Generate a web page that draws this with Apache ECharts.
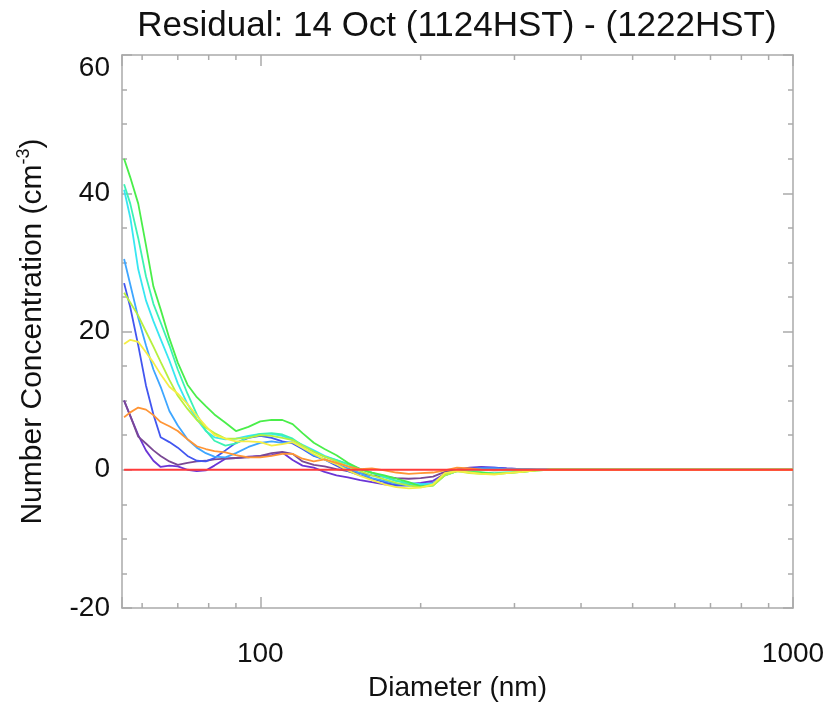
<!DOCTYPE html>
<html>
<head>
<meta charset="utf-8">
<script src="https://cdn.jsdelivr.net/npm/echarts@6/dist/echarts.min.js"></script>
<style>
html,body{margin:0;padding:0;background:#fff;}
#chart{width:830px;height:707px;}
</style>
</head>
<body>
<div id="chart"></div>
<script>
// Diameters (nm) shared by every scan
const diameters = [55.5, 57, 59, 61, 63, 65, 67.5, 70, 73, 76,
  79, 82, 86, 90, 95, 100, 105, 110, 115, 120,
  126, 132, 139, 146, 154, 162, 171, 180, 190, 200,
  211, 222, 234, 247, 260, 275, 290, 310, 330, 350,
  375, 400, 450, 500, 600, 1000];

const violet = [10.0, 7.8, 5.0, 2.8, 1.3, 0.4, 0.6, 0.5, 0.0, -0.2,
  -0.1, 0.6, 1.6, 1.7, 1.9, 2.0, 2.1, 2.5, 1.4, 0.6,
  0.3, -0.3, -0.8, -1.1, -1.5, -1.8, -2.1, -2.2, -2.1, -1.9,
  -1.6, -0.6, 0, 0.3, 0.4, 0.3, 0.2, 0.1, 0, 0,
  0, 0, 0, 0, 0, 0];
const mauve = [10.0, 7.8, 4.8, 3.8, 2.8, 2.0, 1.2, 0.7, 1.0, 1.2,
  1.3, 1.5, 1.6, 1.7, 1.8, 2.0, 2.4, 2.6, 2.3, 1.2,
  0.7, 0.5, 0.1, -0.2, -0.5, -0.8, -1.0, -1.2, -1.3, -1.2,
  -1.0, -0.3, 0, 0.2, 0.3, 0.2, 0.1, 0, 0, 0,
  0, 0, 0, 0, 0, 0];
const blue = [27.0, 23.5, 18.0, 12.2, 8.0, 4.7, 4.0, 3.2, 2.0, 1.3,
  1.2, 1.7, 2.8, 3.9, 4.6, 4.9, 4.6, 4.1, 3.8, 3.0,
  2.0, 1.5, 0.6, -0.2, -0.8, -1.3, -1.8, -2.3, -2.3, -2.1,
  -1.9, -0.7, 0, 0.2, 0.3, 0.3, 0.2, 0.1, 0, 0,
  0, 0, 0, 0, 0, 0];
const lightBlue = [30.5, 26.8, 22.0, 18.0, 14.5, 12.0, 8.5, 6.4, 4.4, 3.2,
  2.4, 1.9, 1.8, 2.4, 3.3, 3.9, 4.1, 3.9, 4.0, 3.2,
  2.1, 1.5, 0.8, 0.2, -0.5, -1.2, -1.6, -2.0, -2.2, -2.3,
  -2.1, -0.8, -0.2, 0.1, 0.2, 0.2, 0.1, 0.1, 0, 0,
  0, 0, 0, 0, 0, 0];
const cyan = [40.5, 36.5, 29.0, 24.5, 21.5, 18.9, 15.8, 12.5, 9.5, 7.3,
  5.6, 4.7, 4.4, 4.5, 4.9, 5.2, 5.2, 4.9, 4.3, 3.6,
  2.8, 2.0, 1.4, 0.8, 0.1, -0.4, -1.1, -1.6, -1.9, -2.1,
  -2.0, -0.7, -0.1, -0.1, 0, -0.1, -0.1, 0, 0, 0,
  0, 0, 0, 0, 0, 0];
const aqua = [41.3, 38.5, 33.5, 28.0, 24.0, 21.3, 18.0, 14.5, 11.0, 8.0,
  5.7, 4.2, 3.5, 3.8, 4.7, 5.2, 5.3, 5.1, 4.5, 3.5,
  2.6, 1.9, 1.4, 0.8, 0.1, -0.5, -1.0, -1.6, -2.0, -2.4,
  -2.3, -0.8, -0.2, -0.3, -0.4, -0.5, -0.4, -0.3, -0.1, 0,
  0, 0, 0, 0, 0, 0];
const green = [45.0, 42.3, 38.5, 32.5, 26.5, 23.2, 19.0, 15.5, 12.3, 10.5,
  9.2, 8.0, 6.8, 5.6, 6.2, 7.0, 7.2, 7.2, 6.6, 5.3,
  3.9, 3.0, 2.1, 1.0, 0.1, -0.4, -0.8, -1.3, -1.8, -2.4,
  -2.2, -0.6, -0.1, -0.3, -0.4, -0.6, -0.5, -0.3, -0.1, 0,
  0, 0, 0, 0, 0, 0];
const yellowGreen = [25.6, 24.2, 22.3, 20.0, 17.8, 15.6, 13.0, 10.7, 8.8, 7.2,
  6.1, 5.3, 4.5, 4.5, 4.6, 5.0, 4.9, 4.6, 4.3, 3.5,
  2.6, 1.9, 1.2, 0.5, -0.2, -0.8, -1.4, -1.9, -2.3, -2.5,
  -2.3, -0.8, -0.2, -0.5, -0.6, -0.6, -0.5, -0.3, -0.1, 0,
  0, 0, 0, 0, 0, 0];
const yellow = [18.2, 18.8, 18.5, 17.0, 15.5, 13.8, 12.0, 11.0, 9.5, 7.8,
  6.3, 5.0, 4.5, 4.1, 4.1, 4.0, 3.5, 3.7, 4.0, 3.2,
  2.3, 1.5, 0.8, -0.1, -0.9, -1.5, -2.1, -2.5, -2.7, -2.6,
  -2.1, -0.5, -0.2, -0.4, -0.6, -0.7, -0.5, -0.3, -0.1, 0,
  0, 0, 0, 0, 0, 0];
const orange = [7.6, 8.3, 9.0, 8.7, 7.9, 6.9, 6.3, 5.6, 4.4, 3.4,
  3.0, 2.7, 2.5, 2.1, 1.8, 1.8, 2.0, 2.3, 2.3, 1.6,
  1.2, 1.5, 1.0, 0.5, 0.1, 0.2, -0.1, -0.4, -0.6, -0.5,
  -0.4, -0.1, 0.3, 0.2, 0, -0.1, 0, 0, 0, 0,
  0, 0, 0, 0, 0, 0];
const red = [0, 0, 0, 0, 0, 0, 0, 0, 0, 0,
  0, 0, 0, 0, 0, 0, 0, 0, 0, 0,
  0, 0, 0, 0, 0, 0, 0, 0, 0, 0,
  0, 0, 0, 0, 0, 0, 0, 0, 0, 0,
  0, 0, 0, 0, 0, 0];

const seriesList = [
  {values: violet, color: '#6b35d6'},
  {values: mauve, color: '#7a4894'},
  {values: blue, color: '#4256f0'},
  {values: lightBlue, color: '#3ea6ff'},
  {values: cyan, color: '#38e6f2'},
  {values: aqua, color: '#3cf2b4'},
  {values: green, color: '#4aee4a'},
  {values: yellowGreen, color: '#b6f03e'},
  {values: yellow, color: '#f5ee45'},
  {values: orange, color: '#ff9535'},
  {values: red, color: '#ff3b3b'}
];

// Axis settings
const xMin = 55, xMax = 1000;
const yMin = -20, yMax = 60, yInterval = 20;
const xMinorTicks = [60, 70, 80, 90, 200, 300, 400, 500, 600, 700, 800, 900];

const FONT = "'Liberation Sans', Arial, Helvetica, sans-serif";
const BOX = '#aaaaaa';
const TXT = '#111111';

const lineSeries = seriesList.map(s => ({
  type: 'line',
  xAxisIndex: 0, yAxisIndex: 0,
  data: diameters.map((d, i) => [d, s.values[i]]),
  showSymbol: false,
  symbol: 'none',
  lineStyle: {color: s.color, width: 1.8},
  itemStyle: {color: s.color},
  animation: false,
  silent: true
}));

const tickSeries = {
  type: 'custom',
  xAxisIndex: 0, yAxisIndex: 0,
  data: xMinorTicks.map(v => [v, yMin]),
  clip: false,
  silent: true,
  animation: false,
  renderItem: function (params, api) {
    const v = api.value(0);
    const b = api.coord([v, yMin]);
    const t = api.coord([v, yMax]);
    return {
      type: 'group',
      children: [
        {type: 'line', shape: {x1: b[0], y1: b[1], x2: b[0], y2: b[1] - 5}, style: {stroke: BOX, lineWidth: 1.5}},
        {type: 'line', shape: {x1: t[0], y1: t[1], x2: t[0], y2: t[1] + 5}, style: {stroke: BOX, lineWidth: 1.5}}
      ]
    };
  }
};

const xLabelFmt = function (v) {
  const l = Math.log10(v);
  return Math.abs(l - Math.round(l)) < 1e-6 ? String(Math.round(v)) : '';
};
const yLabelFmt = function (v) {
  return v === yMax ? '{top|' + v + '}' : String(v);
};

const baseX = {
  type: 'log', logBase: 10, min: xMin, max: xMax,
  axisLine: {show: true, onZero: false, lineStyle: {color: BOX, width: 1.5}},
  axisTick: {show: true, inside: true, length: 11, lineStyle: {color: BOX, width: 1.5}},
  splitLine: {show: false},
  minorTick: {show: false}
};
const baseY = {
  type: 'value', min: yMin, max: yMax, interval: yInterval,
  axisLine: {show: true, onZero: false, lineStyle: {color: BOX, width: 1.5}},
  axisTick: {show: true, inside: true, length: 10, lineStyle: {color: BOX, width: 1.5}},
  minorTick: {show: true, splitNumber: 4, length: 5, lineStyle: {color: BOX, width: 1.5}},
  splitLine: {show: false}
};

const chart = echarts.init(document.getElementById('chart'), null, {renderer: 'canvas'});
chart.setOption({
  backgroundColor: '#ffffff',
  animation: false,
  title: {
    text: 'Residual: 14 Oct (1124HST) - (1222HST)',
    left: 457, top: 9, padding: 0,
    textAlign: 'center',
    textStyle: {fontFamily: FONT, fontSize: 35, fontWeight: 'normal', color: TXT}
  },
  grid: {left: 122, right: 37, top: 55, bottom: 97, containLabel: false},
  xAxis: [
    Object.assign({}, baseX, {
      position: 'bottom',
      name: 'Diameter (nm)', nameLocation: 'middle', nameGap: 66,
      nameTextStyle: {fontFamily: FONT, fontSize: 28, color: TXT},
      axisLabel: {show: true, margin: 32, fontFamily: FONT, fontSize: 28, color: TXT, formatter: xLabelFmt}
    }),
    Object.assign({}, baseX, {position: 'top', axisLabel: {show: false}})
  ],
  yAxis: [
    Object.assign({}, baseY, {
      position: 'left',
      name: 'Number Concentration (cm{sup|-3})', nameLocation: 'middle', nameGap: 71,
      nameTextStyle: {fontFamily: FONT, fontSize: 30, color: TXT,
        rich: {sup: {fontFamily: FONT, fontSize: 18, color: TXT, verticalAlign: 'top', lineHeight: 36}}},
      axisLabel: {show: true, margin: 12, fontFamily: FONT, fontSize: 28, color: TXT, formatter: yLabelFmt,
        rich: {top: {fontFamily: FONT, fontSize: 28, color: TXT, padding: [26, 0, 0, 0]}}}
    }),
    Object.assign({}, baseY, {position: 'right', axisLabel: {show: false}})
  ],
  series: lineSeries.concat([tickSeries])
});
</script>
</body>
</html>
